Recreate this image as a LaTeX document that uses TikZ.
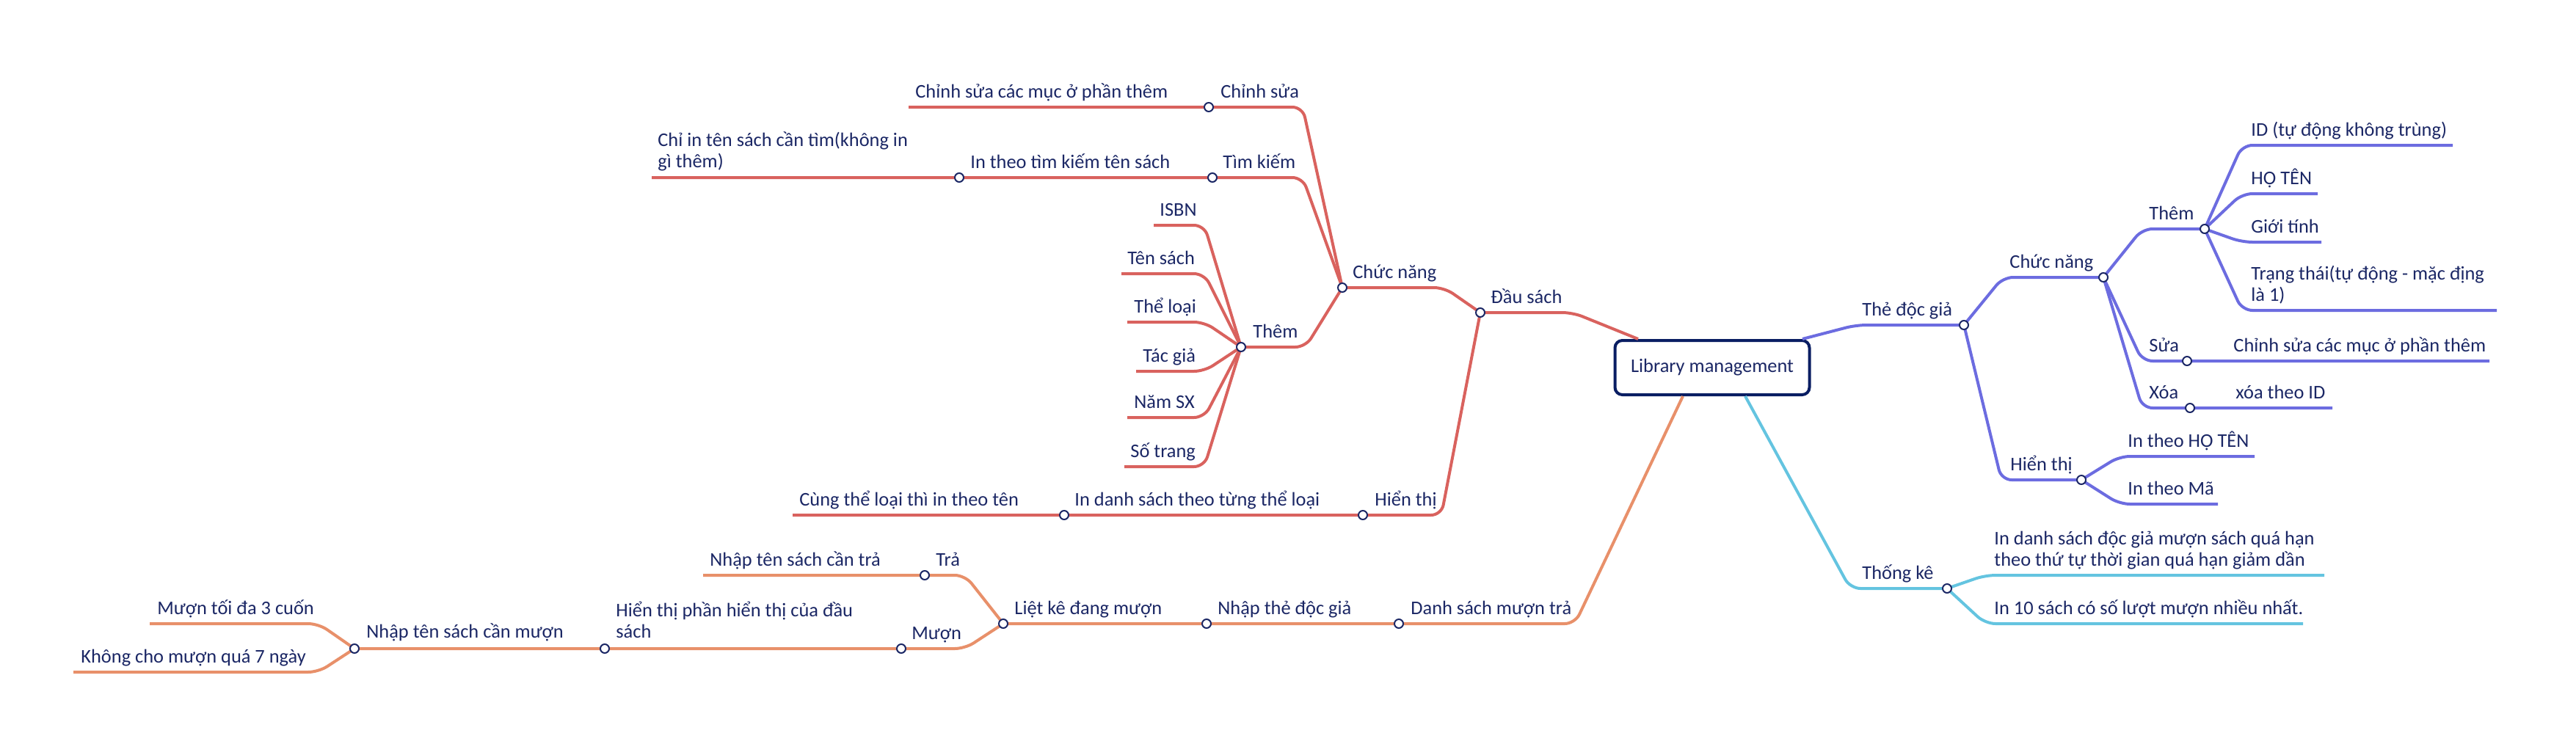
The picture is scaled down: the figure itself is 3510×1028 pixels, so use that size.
\documentclass[tikz,border=0pt]{standalone}
\usepackage{fontspec}
\setmainfont{Carlito}
\definecolor{ink}{HTML}{1B2765}
\definecolor{rootline}{HTML}{0A1E63}
\definecolor{redbr}{HTML}{D9625E}
\definecolor{bluebr}{HTML}{6C6CE0}
\definecolor{cyanbr}{HTML}{64C4E0}
\definecolor{orangebr}{HTML}{E8906A}

\begin{document}
\begin{tikzpicture}[x=0.5pt,y=-0.5pt,
  branch/.style={line width=2pt, rounded corners=7pt},
  redline/.style={branch, draw=redbr},
  blueline/.style={branch, draw=bluebr},
  cyanline/.style={branch, draw=cyanbr},
  orangeline/.style={branch, draw=orangebr},
  dot/.style={circle, draw=ink, fill=white, line width=1pt, minimum size=6pt, inner sep=0pt},
  lbl/.style={anchor=base west, inner sep=0pt, text=ink, align=left,
    font=\fontsize{13.2pt}{14.5pt}\selectfont},
  rootbox/.style={draw=rootline, line width=2pt, rounded corners=5pt, fill=white,
    minimum width=132.5pt, minimum height=37pt, text=ink,
    font=\fontsize{13.2pt}{14.5pt}\selectfont}]

\useasboundingbox (0,0) rectangle (3510,1028);

% Define coordinates for the root and where branches meet it
\node[rootbox] (root) at (2333,501) {Library management};
\coordinate (rootR) at (2232,462);  % red branch
\coordinate (rootP) at (2456,462);  % blue branch
\coordinate (rootO) at (2293,540);  % orange branch
\coordinate (rootC) at (2378,540);  % cyan branch

% Red branch (left, top)
\coordinate (ds) at (2017,426);  \coordinate (ds-k) at (2143,426);
\coordinate (cn) at (1829,392);  \coordinate (cn-k) at (1968,392);
\coordinate (ht) at (1857,702);  \coordinate (ht-k) at (1964,702);
\coordinate (cs) at (1647,146);  \coordinate (cs-k) at (1775,146);
\coordinate (cs-end) at (1238,146);
\coordinate (tk) at (1652,242);  \coordinate (tk-k) at (1775,242);
\coordinate (itk) at (1307,242); \coordinate (itk-end) at (888,242);
\coordinate (th) at (1691,473);  \coordinate (th-k) at (1779,473);
\coordinate (ids) at (1450,702); \coordinate (ids-end) at (1080,702);
\coordinate (isbn) at (1572,307);   \coordinate (isbn-k) at (1641,307);
\coordinate (tsach) at (1528,373);  \coordinate (tsach-k) at (1641,373);
\coordinate (tloai) at (1536,439);  \coordinate (tloai-k) at (1641,439);
\coordinate (tgia) at (1548,506);   \coordinate (tgia-k) at (1641,506);
\coordinate (nsx) at (1536,569);    \coordinate (nsx-k) at (1641,569);
\coordinate (strang) at (1532,636); \coordinate (strang-k) at (1641,636);

\draw[redline] (ds) -- (ds-k) -- (rootR);
\draw[redline] (cn) -- (cn-k) -- (ds);
\draw[redline] (ids-end) -- (ids) -- (ht) -- (ht-k) -- (ds);
\draw[redline] (cs-end) -- (cs) -- (cs-k) -- (cn);
\draw[redline] (itk-end) -- (itk) -- (tk) -- (tk-k) -- (cn);
\draw[redline] (th) -- (th-k) -- (cn);
\draw[redline] (isbn) -- (isbn-k) -- (th);
\draw[redline] (tsach) -- (tsach-k) -- (th);
\draw[redline] (tloai) -- (tloai-k) -- (th);
\draw[redline] (tgia) -- (tgia-k) -- (th);
\draw[redline] (nsx) -- (nsx-k) -- (th);
\draw[redline] (strang) -- (strang-k) -- (th);

% Blue branch (right)
\coordinate (tdg) at (2676,443);  \coordinate (tdg-k) at (2529,443);
\coordinate (cnR) at (2866,378);  \coordinate (cnR-k) at (2729,378);
\coordinate (htR) at (2836,654);  \coordinate (htR-k) at (2727,654);
\coordinate (thR) at (3004,312);  \coordinate (thR-k) at (2919,312);
\coordinate (sua) at (2980,492);  \coordinate (sua-k) at (2919,492);
\coordinate (sua-end) at (3392,492);
\coordinate (xoa) at (2984,556);  \coordinate (xoa-k) at (2919,556);
\coordinate (xoa-end) at (3178,556);
\coordinate (id-k) at (3055,198);  \coordinate (id-end) at (3342,198);
\coordinate (hot-k) at (3055,264); \coordinate (hot-end) at (3158,264);
\coordinate (gt-k) at (3055,330);  \coordinate (gt-end) at (3163,330);
\coordinate (tt-k) at (3055,423);  \coordinate (tt-end) at (3402,423);
\coordinate (iht-k) at (2888,622); \coordinate (iht-end) at (3072,622);
\coordinate (ima-k) at (2888,687); \coordinate (ima-end) at (3022,687);

\draw[blueline] (rootP) -- (tdg-k) -- (tdg);
\draw[blueline] (tdg) -- (cnR-k) -- (cnR);
\draw[blueline] (tdg) -- (htR-k) -- (htR);
\draw[blueline] (cnR) -- (thR-k) -- (thR);
\draw[blueline] (cnR) -- (sua-k) -- (sua) -- (sua-end);
\draw[blueline] (cnR) -- (xoa-k) -- (xoa) -- (xoa-end);
\draw[blueline] (thR) -- (id-k) -- (id-end);
\draw[blueline] (thR) -- (hot-k) -- (hot-end);
\draw[blueline] (thR) -- (gt-k) -- (gt-end);
\draw[blueline] (thR) -- (tt-k) -- (tt-end);
\draw[blueline] (htR) -- (iht-k) -- (iht-end);
\draw[blueline] (htR) -- (ima-k) -- (ima-end);

% Cyan branch (right, bottom)
\coordinate (tke) at (2653,802);   \coordinate (tke-k) at (2521,802);
\coordinate (qh-k) at (2705,784);  \coordinate (qh-end) at (3167,784);
\coordinate (top-k) at (2705,850); \coordinate (top-end) at (3138,850);

\draw[cyanline] (rootC) -- (tke-k) -- (tke);
\draw[cyanline] (tke) -- (qh-k) -- (qh-end);
\draw[cyanline] (tke) -- (top-k) -- (top-end);

% Orange branch (left, bottom)
\coordinate (dsmt) at (1906,850); \coordinate (dsmt-k) at (2146,850);
\coordinate (ntdg) at (1644,850);
\coordinate (lkdm) at (1367,850);
\coordinate (tra) at (1260,784);  \coordinate (tra-k) at (1315,784);
\coordinate (tra-end) at (958,784);
\coordinate (muon) at (1228,884); \coordinate (muon-k) at (1315,884);
\coordinate (htp) at (824,884);
\coordinate (ntsm) at (483,884);
\coordinate (max-k) at (434,850); \coordinate (max-end) at (204,850);
\coordinate (day-k) at (434,916); \coordinate (day-end) at (100,916);

\draw[orangeline] (rootO) -- (dsmt-k) -- (dsmt) -- (ntdg) -- (lkdm);
\draw[orangeline] (lkdm) -- (tra-k) -- (tra) -- (tra-end);
\draw[orangeline] (lkdm) -- (muon-k) -- (muon) -- (htp) -- (ntsm);
\draw[orangeline] (ntsm) -- (max-k) -- (max-end);
\draw[orangeline] (ntsm) -- (day-k) -- (day-end);

% Dots at the joints
\node[dot] (d-ds) at (ds) {};   \node[dot] (d-cn) at (cn) {};
\node[dot] (d-ht) at (ht) {};   \node[dot] (d-cs) at (cs) {};
\node[dot] (d-tk) at (tk) {};   \node[dot] (d-itk) at (itk) {};
\node[dot] (d-th) at (th) {};   \node[dot] (d-ids) at (ids) {};
\node[dot] (d-tdg) at (tdg) {}; \node[dot] (d-cnR) at (cnR) {};
\node[dot] (d-htR) at (htR) {}; \node[dot] (d-thR) at (thR) {};
\node[dot] (d-sua) at (sua) {}; \node[dot] (d-xoa) at (xoa) {};
\node[dot] (d-tke) at (tke) {};
\node[dot] (d-dsmt) at (dsmt) {}; \node[dot] (d-ntdg) at (ntdg) {};
\node[dot] (d-lkdm) at (lkdm) {}; \node[dot] (d-tra) at (tra) {};
\node[dot] (d-muon) at (muon) {}; \node[dot] (d-htp) at (htp) {};
\node[dot] (d-ntsm) at (ntsm) {};

% Labels, red
\node[lbl] (t-ds) at (2031,413) {Đầu sách};
\node[lbl] (t-cn) at (1843,379) {Chức năng};
\node[lbl] (t-ht) at (1873,689) {Hiển thị};
\node[lbl] (t-cs) at (1663,133) {Chỉnh sửa};
\node[lbl] (t-tk) at (1666,229) {Tìm kiếm};
\node[lbl] (t-th) at (1707,460) {Thêm};
\node[lbl] (t-csl) at (1247,133) {Chỉnh sửa các mục ở phần thêm};
\node[lbl] (t-itk) at (1322,229) {In theo tìm kiếm tên sách};
\node[lbl] (t-cit) at (896,228) {Chỉ in tên sách cần tìm(không in\\gì thêm)};
\node[lbl] (t-ids) at (1464,689) {In danh sách theo từng thể loại};
\node[lbl] (t-ctl) at (1089,689) {Cùng thể loại thì in theo tên};
\node[lbl] (t-isbn) at (1580,294) {ISBN};
\node[lbl] (t-tsach) at (1536,360) {Tên sách};
\node[lbl] (t-tloai) at (1545,426) {Thể loại};
\node[lbl] (t-tgia) at (1557,493) {Tác giả};
\node[lbl] (t-nsx) at (1545,556) {Năm SX};
\node[lbl] (t-strang) at (1540,623) {Số trang};

% Labels, blue
\node[lbl] (t-tdg) at (2537,430) {Thẻ độc giả};
\node[lbl] (t-cnR) at (2738,365) {Chức năng};
\node[lbl] (t-thR) at (2928,299) {Thêm};
\node[lbl] (t-id) at (3067,185) {ID (tự động không trùng)};
\node[lbl] (t-hot) at (3067,251) {HỌ TÊN};
\node[lbl] (t-gt) at (3067,317) {Giới tính};
\node[lbl] (t-tt) at (3067,410) {Trạng thái(tự động - mặc địng\\là 1)};
\node[lbl] (t-sua) at (2928,479) {Sửa};
\node[lbl] (t-sual) at (3043,479) {Chỉnh sửa các mục ở phần thêm};
\node[lbl] (t-xoa) at (2928,543) {Xóa};
\node[lbl] (t-xoal) at (3046,543) {xóa theo ID};
\node[lbl] (t-htR) at (2739,641) {Hiển thị};
\node[lbl] (t-iht) at (2899,609) {In theo HỌ TÊN};
\node[lbl] (t-ima) at (2899,674) {In theo Mã};

% Labels, cyan
\node[lbl] (t-tke) at (2537,789) {Thống kê};
\node[lbl] (t-qh) at (2717,771) {In danh sách độc giả mượn sách quá hạn\\theo thứ tự thời gian quá hạn giảm dần};
\node[lbl] (t-top) at (2717,837) {In 10 sách có số lượt mượn nhiều nhất.};

% Labels, orange
\node[lbl] (t-dsmt) at (1922,837) {Danh sách mượn trả};
\node[lbl] (t-ntdg) at (1659,837) {Nhập thẻ độc giả};
\node[lbl] (t-lkdm) at (1382,837) {Liệt kê đang mượn};
\node[lbl] (t-tra) at (1275,771) {Trả};
\node[lbl] (t-muon) at (1242,871) {Mượn};
\node[lbl] (t-tral) at (967,771) {Nhập tên sách cần trả};
\node[lbl] (t-htp) at (839,869) {Hiển thị phần hiển thị của đầu\\sách};
\node[lbl] (t-ntsm) at (499,869) {Nhập tên sách cần mượn};
\node[lbl] (t-max) at (214,837) {Mượn tối đa 3 cuốn};
\node[lbl] (t-day) at (110,903) {Không cho mượn quá 7 ngày};

\end{tikzpicture}
\end{document}
